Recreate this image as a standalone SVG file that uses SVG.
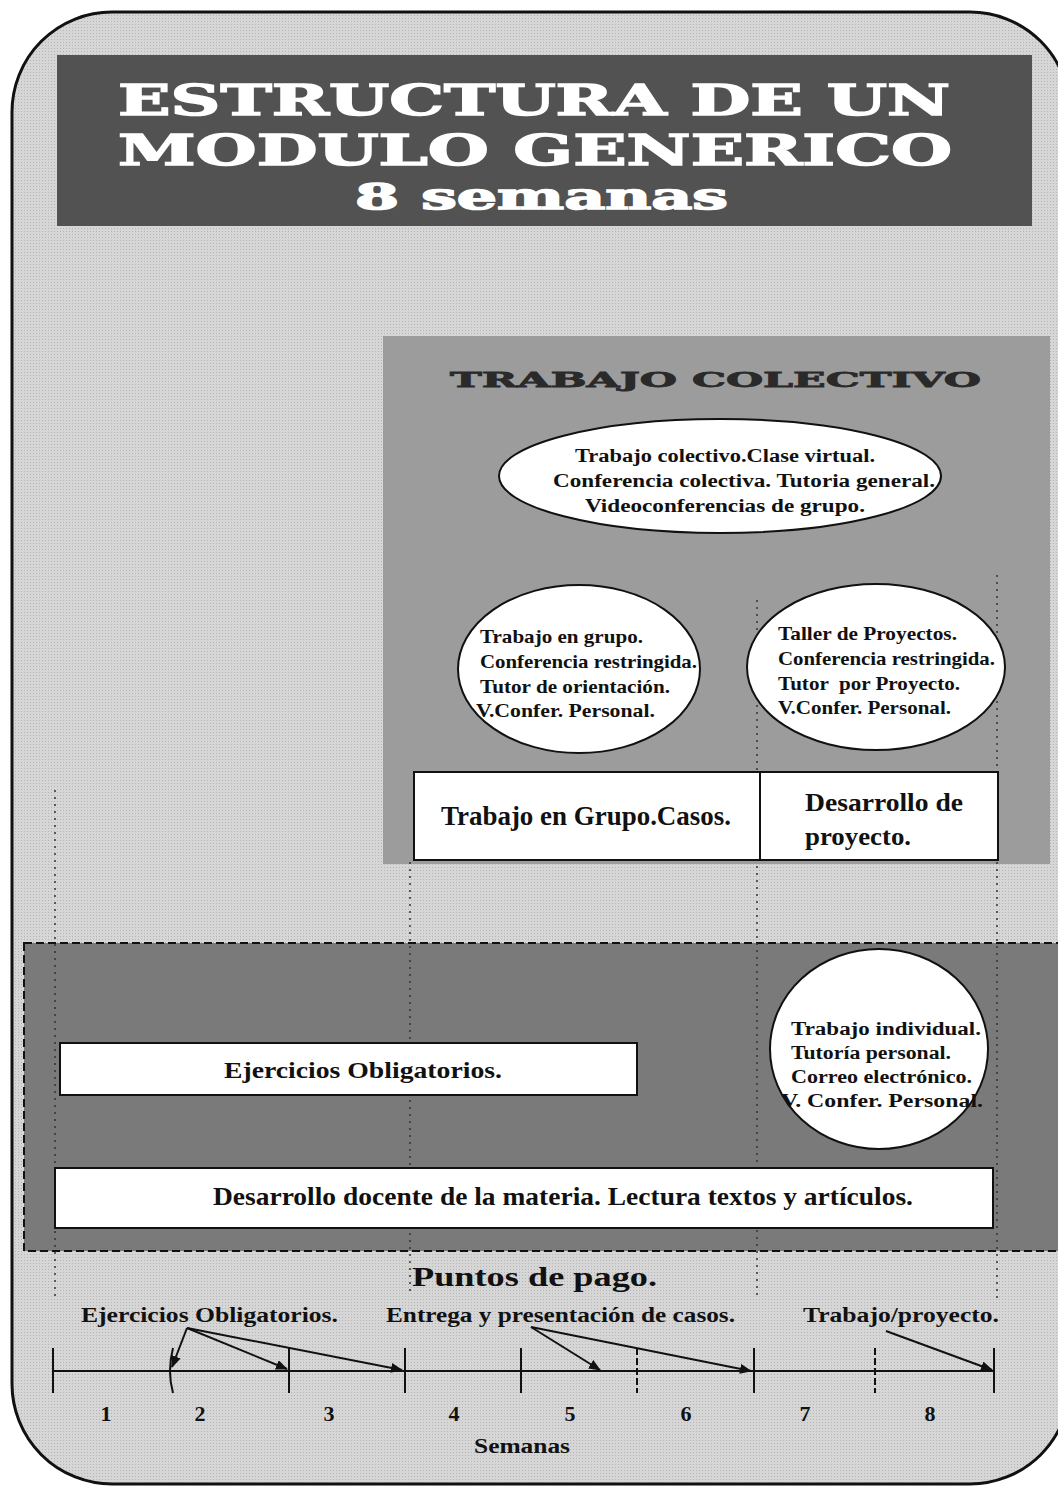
<svg xmlns="http://www.w3.org/2000/svg" width="1058" height="1486" viewBox="0 0 1058 1486">
  <defs>
    <marker id="ah" viewBox="0 0 12 10" refX="11" refY="5" markerWidth="12" markerHeight="10" markerUnits="userSpaceOnUse" orient="auto">
      <path d="M0,0 L12,5 L0,10 Z" fill="#111111"/>
    </marker>
    <pattern id="dots" width="3" height="3" patternUnits="userSpaceOnUse">
      <rect width="3" height="3" fill="#d6d6d6"/>
      <rect width="1" height="1" fill="#b4b4b4"/>
    </pattern>
  </defs>
  <style>
    .body { font-family: "Liberation Serif", "Times New Roman", serif; font-weight: bold; fill: #111111; }
    .title { font-family: "DejaVu Serif", serif; font-weight: bold; fill: #ffffff; stroke: #ffffff; stroke-width: 1.4; }
    .sub { font-family: "DejaVu Serif", serif; font-weight: bold; fill: #2a2a2a; stroke: #2a2a2a; stroke-width: 0.8; }
    .box { fill: #ffffff; stroke: #111111; stroke-width: 2; }
    .guide { stroke: #333333; stroke-width: 1.5; stroke-dasharray: 2 5; fill: none; }
    .conn { stroke: #111111; stroke-width: 2; fill: none; marker-end: url(#ah); }
    .tick { stroke: #111111; stroke-width: 2; fill: none; }
  </style>

  <rect x="0" y="0" width="1058" height="1486" fill="#ffffff"/>

  <g id="frame">
    <rect x="12" y="12" width="1058" height="1472" rx="100" ry="100" fill="url(#dots)" stroke="#111111" stroke-width="3"/>
  </g>

  <g id="title">
    <rect x="57" y="55" width="975" height="171" fill="#525252"/>
    <text class="title" x="118" y="115" font-size="42" textLength="832" lengthAdjust="spacingAndGlyphs">ESTRUCTURA DE UN</text>
    <text class="title" x="118" y="165" font-size="42" textLength="834" lengthAdjust="spacingAndGlyphs">MODULO GENERICO</text>
    <text class="title" x="355" y="209" font-size="35" textLength="373" lengthAdjust="spacingAndGlyphs">8 semanas</text>
  </g>

  <g id="trabajo-colectivo-panel">
    <rect x="383" y="336" width="667" height="528" fill="#9c9c9c"/>
    <text class="sub" x="450" y="387" font-size="21" textLength="531" lengthAdjust="spacingAndGlyphs">TRABAJO COLECTIVO</text>
  </g>

  <g id="bottom-panel">
    <rect x="24" y="943" width="1040" height="308" fill="#7a7a7a" stroke="#111111" stroke-width="2" stroke-dasharray="8 4"/>
  </g>

  <g id="guides">
    <line class="guide" x1="55" y1="790" x2="55" y2="1300"/>
    <line class="guide" x1="410" y1="862" x2="410" y2="1292"/>
    <line class="guide" x1="757" y1="600" x2="757" y2="1300"/>
    <line class="guide" x1="997" y1="575" x2="997" y2="1300"/>
  </g>

  <g id="ellipse-colectivo">
    <ellipse cx="720" cy="476" rx="221" ry="57" class="box"/>
    <text class="body" x="575" y="462" font-size="18" textLength="300" lengthAdjust="spacingAndGlyphs">Trabajo colectivo.Clase virtual.</text>
    <text class="body" x="553" y="487" font-size="18" textLength="382" lengthAdjust="spacingAndGlyphs">Conferencia colectiva. Tutoria general.</text>
    <text class="body" x="585" y="512" font-size="18" textLength="280" lengthAdjust="spacingAndGlyphs">Videoconferencias de grupo.</text>
  </g>

  <g id="ellipse-grupo">
    <ellipse cx="579" cy="669" rx="121" ry="84" class="box"/>
    <text class="body" x="480" y="643" font-size="19" textLength="163" lengthAdjust="spacingAndGlyphs">Trabajo en grupo.</text>
    <text class="body" x="480" y="668" font-size="19" textLength="217" lengthAdjust="spacingAndGlyphs">Conferencia restringida.</text>
    <text class="body" x="480" y="693" font-size="19" textLength="190" lengthAdjust="spacingAndGlyphs">Tutor de orientación.</text>
    <text class="body" x="476" y="717" font-size="19" textLength="179" lengthAdjust="spacingAndGlyphs">V.Confer. Personal.</text>
  </g>

  <g id="ellipse-proyectos">
    <ellipse cx="876" cy="667" rx="129" ry="83" class="box"/>
    <text class="body" x="778" y="640" font-size="19" textLength="179" lengthAdjust="spacingAndGlyphs">Taller de Proyectos.</text>
    <text class="body" x="778" y="665" font-size="19" textLength="217" lengthAdjust="spacingAndGlyphs">Conferencia restringida.</text>
    <text class="body" x="778" y="690" font-size="19" textLength="182" lengthAdjust="spacingAndGlyphs" xml:space="preserve">Tutor  por Proyecto.</text>
    <text class="body" x="778" y="714" font-size="19" textLength="173" lengthAdjust="spacingAndGlyphs">V.Confer. Personal.</text>
  </g>

  <g id="box-casos">
    <rect x="414" y="772" width="346" height="88" class="box"/>
    <text class="body" x="441" y="825" font-size="27" textLength="290" lengthAdjust="spacingAndGlyphs">Trabajo en Grupo.Casos.</text>
  </g>

  <g id="box-proyecto">
    <rect x="760" y="772" width="238" height="88" class="box"/>
    <text class="body" x="805" y="811" font-size="26" textLength="158" lengthAdjust="spacingAndGlyphs">Desarrollo de</text>
    <text class="body" x="805" y="845" font-size="26" textLength="106" lengthAdjust="spacingAndGlyphs">proyecto.</text>
  </g>

  <g id="box-ejercicios">
    <rect x="60" y="1043" width="577" height="52" class="box"/>
    <text class="body" x="224" y="1078" font-size="24" textLength="278" lengthAdjust="spacingAndGlyphs">Ejercicios Obligatorios.</text>
  </g>

  <g id="ellipse-individual">
    <ellipse cx="879" cy="1049" rx="109" ry="100" class="box"/>
    <text class="body" x="791" y="1035" font-size="18" textLength="190" lengthAdjust="spacingAndGlyphs">Trabajo individual.</text>
    <text class="body" x="791" y="1059" font-size="18" textLength="160" lengthAdjust="spacingAndGlyphs">Tutoría personal.</text>
    <text class="body" x="791" y="1083" font-size="18" textLength="181" lengthAdjust="spacingAndGlyphs">Correo electrónico.</text>
    <text class="body" x="781" y="1107" font-size="18" textLength="202" lengthAdjust="spacingAndGlyphs">V. Confer. Personal.</text>
  </g>

  <g id="box-desarrollo">
    <rect x="55" y="1168" width="938" height="60" class="box"/>
    <text class="body" x="213" y="1205" font-size="25" textLength="700" lengthAdjust="spacingAndGlyphs">Desarrollo docente de la materia. Lectura textos y artículos.</text>
  </g>

  <g id="timeline-labels">
    <text class="body" x="412" y="1286" font-size="27" textLength="245" lengthAdjust="spacingAndGlyphs">Puntos de pago.</text>
    <text class="body" x="81" y="1322" font-size="20" textLength="257" lengthAdjust="spacingAndGlyphs">Ejercicios Obligatorios.</text>
    <text class="body" x="386" y="1322" font-size="20" textLength="349" lengthAdjust="spacingAndGlyphs">Entrega y presentación de casos.</text>
    <text class="body" x="803" y="1322" font-size="20" textLength="196" lengthAdjust="spacingAndGlyphs">Trabajo/proyecto.</text>
  </g>

  <g id="timeline">
    <line class="tick" x1="53" y1="1371" x2="995" y2="1371"/>
    <line class="tick" x1="53" y1="1348" x2="53" y2="1393"/>
    <path class="tick" d="M173,1348 Q167,1371 173,1393"/>
    <line class="tick" x1="289" y1="1348" x2="289" y2="1393"/>
    <line class="tick" x1="405" y1="1348" x2="405" y2="1393"/>
    <line class="tick" x1="521" y1="1348" x2="521" y2="1393"/>
    <line class="tick" x1="637" y1="1348" x2="637" y2="1393" stroke-dasharray="7 3"/>
    <line class="tick" x1="754" y1="1348" x2="754" y2="1393"/>
    <line class="tick" x1="875" y1="1348" x2="875" y2="1393" stroke-dasharray="7 3"/>
    <line class="tick" x1="994" y1="1348" x2="994" y2="1393"/>
    <text class="body" x="106" y="1421" font-size="22" text-anchor="middle">1</text>
    <text class="body" x="200" y="1421" font-size="22" text-anchor="middle">2</text>
    <text class="body" x="329" y="1421" font-size="22" text-anchor="middle">3</text>
    <text class="body" x="454" y="1421" font-size="22" text-anchor="middle">4</text>
    <text class="body" x="570" y="1421" font-size="22" text-anchor="middle">5</text>
    <text class="body" x="686" y="1421" font-size="22" text-anchor="middle">6</text>
    <text class="body" x="805" y="1421" font-size="22" text-anchor="middle">7</text>
    <text class="body" x="930" y="1421" font-size="22" text-anchor="middle">8</text>
    <text class="body" x="474" y="1453" font-size="20" textLength="96" lengthAdjust="spacingAndGlyphs">Semanas</text>
  </g>

  <g id="connectors">
    <line class="conn" x1="187" y1="1328" x2="172" y2="1367"/>
    <line class="conn" x1="187" y1="1328" x2="287" y2="1369"/>
    <line class="conn" x1="187" y1="1328" x2="402" y2="1370"/>
    <line class="conn" x1="531" y1="1327" x2="600" y2="1370"/>
    <line class="conn" x1="531" y1="1327" x2="751" y2="1371"/>
    <line class="conn" x1="886" y1="1331" x2="992" y2="1370"/>
  </g>
</svg>
